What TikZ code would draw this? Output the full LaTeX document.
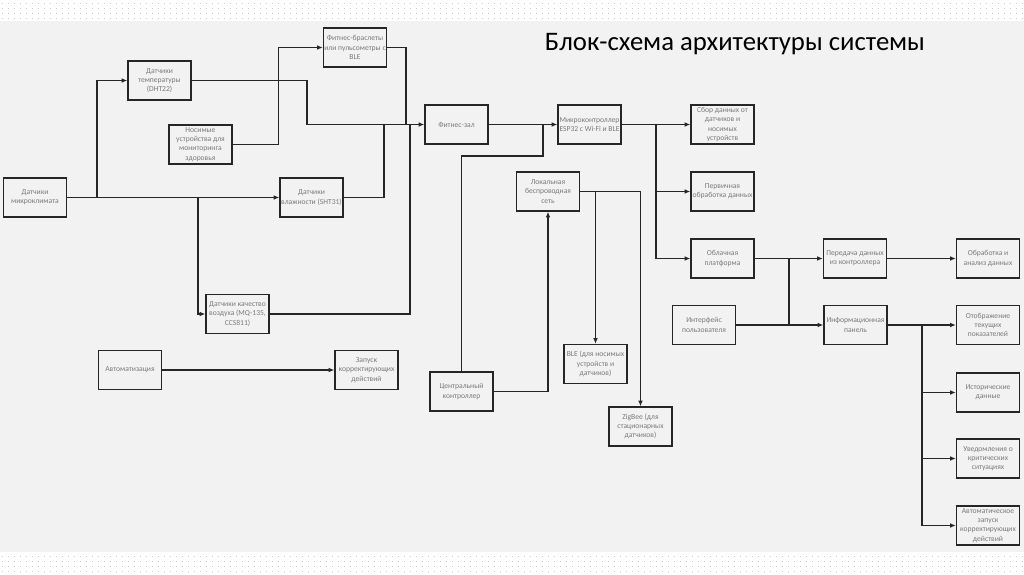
\documentclass[tikz,border=0pt]{standalone}
\usepackage{fontspec}
\setmainfont{Carlito}
\usetikzlibrary{arrows.meta}
\definecolor{slidebg}{HTML}{F2F2F2}
\definecolor{boxtext}{HTML}{7A7A7A}
\definecolor{wire}{HTML}{262626}

\begin{document}
\begin{tikzpicture}[x=0.025cm, y=-0.025cm,
	blk/.style={draw=wire, line width=0.9pt, fill=slidebg, minimum width=1.575cm, minimum height=0.975cm, inner sep=0.5pt, align=center, text=boxtext, font=\fontsize{5.4}{6.6}\selectfont},
	lnk/.style={draw=wire, line width=0.75pt},
	arr/.style={lnk, -{Latex[length=4pt,width=3.2pt]}}]
	\useasboundingbox (0,0) rectangle (1024,574);
	\fill[white] (0,0) rectangle (1024,574);
	\fill[slidebg] (0,21) rectangle (1024,552);
	\foreach \y in {3,8,13,18,556,561,566,571} {\foreach \x in {2,8,...,1022} {\fill[gray!40] (\x,\y) rectangle ++(1.2,1.2);}}
	\node[font=\fontsize{19}{22}\selectfont, anchor=west] (title) at (540,44) {Блок-схема архитектуры системы};
	% sensors and gym
	\node[blk] (mikro) at (35,197.5) {Датчики\\микроклимата};
	\node[blk] (temp) at (159.5,80.5) {Датчики\\температуры\\(DHT22)};
	\node[blk] (braslet) at (355,47.5) {Фитнес-браслеты\\или пульсометры с\\BLE};
	\node[blk] (nosim) at (200.5,144.5) {Носимые\\устройства для\\мониторинга\\здоровья};
	\node[blk] (vlazh) at (311.5,197.5) {Датчики\\влажности (SHT31)};
	\node[blk] (vozduh) at (237.5,314) {Датчики качество\\воздуха (MQ-135,\\CCS811)};
	\node[blk] (zal) at (456.5,124.5) {Фитнес-зал};
	\node[blk] (esp) at (589.5,124.5) {Микроконтроллер\\ESP32 с Wi-Fi и BLE};
	% network
	\node[blk] (lokal) at (548,191.5) {Локальная\\беспроводная\\сеть};
	\node[blk] (ble) at (595.5,364) {BLE (для носимых\\устройств и\\датчиков)};
	\node[blk] (central) at (461.5,391.5) {Центральный\\контроллер};
	\node[blk] (zigbee) at (640.5,426.5) {ZigBee (для\\стационарных\\датчиков)};
	\node[blk] (avtomat) at (130,370) {Автоматизация};
	\node[blk] (zapusk) at (366.5,370) {Запуск\\корректирующих\\действий};
	% processing
	\node[blk] (sbor) at (722.5,124.5) {Сбор данных от\\датчиков и\\носимых\\устройств};
	\node[blk] (perv) at (722.5,191.5) {Первичная\\обработка данных};
	\node[blk] (oblako) at (722.5,258.5) {Облачная\\платформа};
	\node[blk] (pered) at (855,258.5) {Передача данных\\из контроллера};
	\node[blk] (analiz) at (988,258.5) {Обработка и\\анализ данных};
	\node[blk] (interf) at (704,325) {Интерфейс\\пользователя};
	\node[blk] (panel) at (855.5,325) {Информационная\\панель};
	\node[blk] (tekush) at (988,325) {Отображение\\текущих\\показателей};
	\node[blk] (istor) at (988,392.5) {Исторические\\данные};
	\node[blk] (uvedom) at (988,458.5) {Уведомления о\\критических\\ситуациях};
	\node[blk] (avtozap) at (988,525.5) {Автоматическое\\запуск\\корректирующих\\действий};
	% junctions
	\coordinate (j1) at (97,197.5);
	\coordinate (j2) at (198,197.5);
	\coordinate (m1) at (307,124.5);
	\coordinate (m2) at (406,124.5);
	\coordinate (m3) at (384,124.5);
	\coordinate (m4) at (410,124.5);
	\coordinate (c1) at (543,156);
	\coordinate (m5) at (543,124.5);
	\coordinate (m6) at (595.5,191.5);
	\coordinate (m7) at (656,124.5);
	\coordinate (m8) at (789,258.5);
	\coordinate (m9) at (789,325);
	\coordinate (m10) at (922,325);
	% connectors
	\draw[arr] (mikro) -- (vlazh);
	\draw[arr] (j1) |- (temp.west);
	\draw[arr] (j2) |- (vozduh.west);
	\draw[arr] (temp.east) -| (m1) -- (zal.west);
	\draw[lnk] (braslet.east) -| (m2);
	\draw[lnk] (vlazh.east) -| (m3);
	\draw[lnk] (vozduh.east) -| (m4);
	\draw[arr] (nosim.east) -- ++(46,0) |- (braslet.west);
	\draw[arr] (zal) -- (esp);
	\draw[lnk] (central.north) |- (c1) -- (m5);
	\draw[arr] (central.east) -| (lokal.south);
	\draw[arr] (lokal.east) -| (zigbee.north);
	\draw[arr] (m6) -- (ble.north);
	\draw[arr] (avtomat) -- (zapusk);
	\draw[arr] (esp) -- (sbor);
	\foreach \n in {perv,oblako} {\draw[arr] (m7) |- (\n.west);}
	\draw[arr] (oblako) -- (pered);
	\draw[arr] (pered) -- (analiz);
	\draw[lnk] (m8) -- (m9);
	\draw[arr] (interf) -- (panel);
	\draw[arr] (panel) -- (tekush);
	\foreach \n in {istor,uvedom,avtozap} {\draw[arr] (m10) |- (\n.west);}
\end{tikzpicture}
\end{document}
